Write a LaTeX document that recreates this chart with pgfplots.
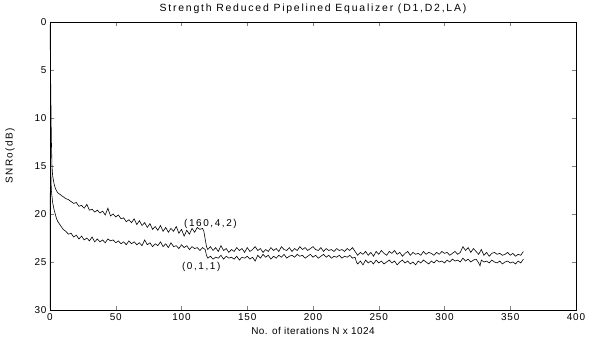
\documentclass[border=0pt]{standalone}
\usepackage{fontspec}
\setmainfont{Liberation Sans}
\usepackage{pgfplots}
\pgfplotsset{compat=1.18}
\usetikzlibrary{calc}
\begin{document}
\begin{tikzpicture}
\begin{axis}[
  name=ax,
  scale only axis, width=526bp, height=288bp,
  xmin=0, xmax=400, ymin=0, ymax=30, y dir=reverse,
  xtick={0,50,...,400}, ytick={0,5,...,30},
  tick align=inside, xtick pos=both, ytick pos=both,
  major tick length=4bp,
  /pgf/number format/assume math mode=true,
  tick label style={font=\fontsize{10}{12}\selectfont\addfontfeature{LetterSpace=8}},
  xlabel style={font=\fontsize{10}{12}\selectfont\addfontfeature{LetterSpace=5}},
  ylabel style={font=\fontsize{10}{12}\selectfont\addfontfeature{LetterSpace=14}, at={(axis description cs:-0.076,0.535)}, anchor=center},
  title style={font=\fontsize{10.5}{12}\selectfont\addfontfeature{LetterSpace=17}, yshift=-1bp},
  title={Strength Reduced Pipelined Equalizer (D1,D2,LA)},
  xlabel={No. of iterations N x 1024},
  ylabel={SNRo(dB)},
  axis line style={line width=0.6pt},
  clip=true,
]
\addplot[black, no marks, line width=0.6pt] coordinates {
(0,0.3) (0.5,6) (1,12) (1.5,15) (2,16) (3,16.8) (4,17.3) (5,17.6) (6,17.8) (8,18.0) (10,18.2) (12,18.4) (14,18.5)
(16,18.7) (18,18.9) (20,18.8) (22,19.2) (24,19.1) (26,19.4) (28,19.0) (30,19.6) (32,19.5) (34,19.8) (36,19.6) (38,19.9)
(40,19.7) (42,20.1) (44,19.4) (46,20.2) (48,20.0) (50,20.3) (52,20.1) (54,20.5) (56,20.4) (58,20.8) (60,20.6) (62,20.9)
(64,20.5) (66,21.1) (68,20.7) (70,21.2) (72,20.9) (74,21.4) (76,21.0) (78,21.6) (80,21.3) (82,21.7) (84,21.2) (86,21.8)
(88,21.4) (90,21.9) (92,21.5) (94,21.8) (96,21.3) (98,22.0) (100,21.6) (102,22.3) (104,21.7) (106,22.1) (108,21.5)
(110,21.9) (112,21.4) (114,21.6) (116,21.5) (117,21.8) (118,22.6) (119,23.4) (120,23.7) (122,23.4) (124,23.8) (126,23.5)
(128,23.9) (130,23.3) (132,23.8) (134,23.6) (136,24.0) (138,23.7) (140,23.9) (142,23.5) (144,23.8) (146,23.6) (148,24.0)
(150,23.5) (152,23.9) (154,23.7) (156,23.4) (158,23.8) (160,23.6) (162,24.0) (164,23.7) (166,23.9) (168,23.5) (170,23.8)
(172,23.6) (174,23.9) (176,23.4) (178,23.7) (180,23.8) (182,23.5) (184,23.9) (186,23.6) (188,23.8) (190,23.4) (192,23.7)
(194,23.5) (196,23.8) (198,23.6) (200,23.4) (202,23.7) (204,23.8) (206,23.5) (208,23.9) (210,23.6) (212,23.8) (214,23.7)
(216,23.9) (218,23.6) (220,23.8) (222,23.7) (224,23.9) (226,23.6) (228,23.8) (230,23.5) (232,23.9) (234,24.3) (236,24.0)
(238,24.2) (240,23.9) (242,24.3) (244,24.0) (246,24.4) (248,23.9) (250,24.2) (252,23.8) (254,24.1) (256,24.3) (258,23.9)
(260,24.1) (262,23.8) (264,24.2) (266,24.0) (268,24.4) (270,24.1) (272,23.9) (274,24.3) (276,24.0) (278,24.2) (280,24.1)
(282,24.3) (284,23.9) (286,24.2) (288,24.0) (290,24.1) (292,24.3) (294,24.0) (296,24.2) (298,23.9) (300,24.1) (302,24.0)
(304,24.3) (306,24.1) (308,23.9) (310,24.2) (312,24.0) (314,23.4) (316,23.8) (318,23.5) (320,24.0) (322,23.6) (324,23.9)
(326,24.2) (328,23.7) (330,24.3) (332,24.0) (334,24.4) (336,24.1) (338,24.0) (340,24.2) (342,24.1) (344,24.3) (346,24.2)
(348,24.0) (350,24.3) (352,24.1) (354,24.4) (356,24.2) (358,24.3) (360,23.9)
};
\addplot[black, no marks, line width=0.6pt] coordinates {
(0,29.8) (0.3,14) (1,17.5) (2,18.8) (3,19.5) (4,20.0) (5,20.5) (6,20.8) (8,21.2) (10,21.6) (12,21.8) (14,22.1) (16,22.0)
(18,22.4) (20,22.2) (22,22.6) (24,22.3) (26,22.7) (28,22.5) (30,22.8) (32,22.4) (34,22.9) (36,22.6) (38,22.9) (40,22.7)
(42,23.0) (44,22.6) (46,22.8) (48,22.7) (50,23.0) (52,22.8) (54,23.1) (56,22.9) (58,23.2) (60,22.8) (62,23.1) (64,22.9)
(66,23.2) (68,23.0) (70,23.3) (72,22.7) (74,23.2) (76,23.0) (78,23.4) (80,23.1) (82,23.3) (84,22.9) (86,23.4) (88,23.1)
(90,23.5) (92,23.0) (94,23.4) (96,23.3) (98,23.6) (100,23.2) (102,23.5) (104,23.3) (106,23.7) (108,23.4) (110,23.6)
(112,23.5) (114,23.8) (116,23.5) (118,23.7) (119,24.3) (120,24.6) (122,24.4) (124,24.7) (126,24.5) (128,24.6) (130,24.3)
(132,24.7) (134,24.4) (136,24.6) (138,24.5) (140,24.7) (142,24.4) (144,24.8) (146,24.5) (148,24.6) (150,24.4) (152,24.7)
(154,24.5) (156,24.9) (158,24.3) (160,24.6) (162,24.2) (164,24.5) (166,24.3) (168,24.7) (170,24.4) (172,24.6) (174,24.3)
(176,24.5) (178,24.2) (180,24.6) (182,24.4) (184,24.3) (186,24.5) (188,24.2) (190,24.4) (192,24.3) (194,24.6) (196,24.4)
(198,24.2) (200,24.5) (202,24.3) (204,24.6) (206,24.4) (208,24.2) (210,24.5) (212,24.3) (214,24.6) (216,24.4) (218,24.5)
(220,24.3) (222,24.6) (224,24.4) (226,24.5) (228,24.3) (230,24.6) (232,24.5) (233,25.0) (234,25.2) (236,24.9) (238,25.3)
(240,24.8) (242,25.1) (244,24.9) (246,25.2) (248,24.8) (250,25.1) (252,24.9) (254,25.2) (256,25.0) (258,24.8) (260,25.1)
(262,24.9) (264,25.3) (266,25.0) (268,24.8) (270,25.1) (272,24.9) (274,25.2) (276,25.0) (278,25.3) (280,24.9) (282,25.1)
(284,24.8) (286,25.0) (288,25.2) (290,24.9) (292,25.1) (294,24.8) (296,25.0) (298,24.9) (300,25.1) (302,24.8) (304,25.0)
(306,24.7) (308,24.9) (310,24.8) (312,25.0) (314,24.6) (316,24.9) (318,24.7) (320,25.0) (322,24.8) (324,24.7) (326,25.1)
(327,25.4) (328,24.8) (330,25.0) (332,24.9) (334,25.1) (336,24.8) (338,25.0) (340,25.1) (342,24.9) (344,25.2) (346,25.0)
(348,24.9) (350,25.1) (352,25.0) (354,25.2) (356,24.9) (358,25.1) (360,24.7)
};
\node[font=\fontsize{10}{12}\selectfont\addfontfeature{LetterSpace=16}] at (axis cs:122,21.0) {(160,4,2)};
\node[font=\fontsize{10}{12}\selectfont\addfontfeature{LetterSpace=16}] at (axis cs:115,25.5) {(0,1,1)};
\end{axis}
\pgfresetboundingbox
\path[use as bounding box] ($(ax.south west)+(-50bp,-30bp)$) rectangle ($(ax.north east)+(17bp,22bp)$);
\end{tikzpicture}
\end{document}
